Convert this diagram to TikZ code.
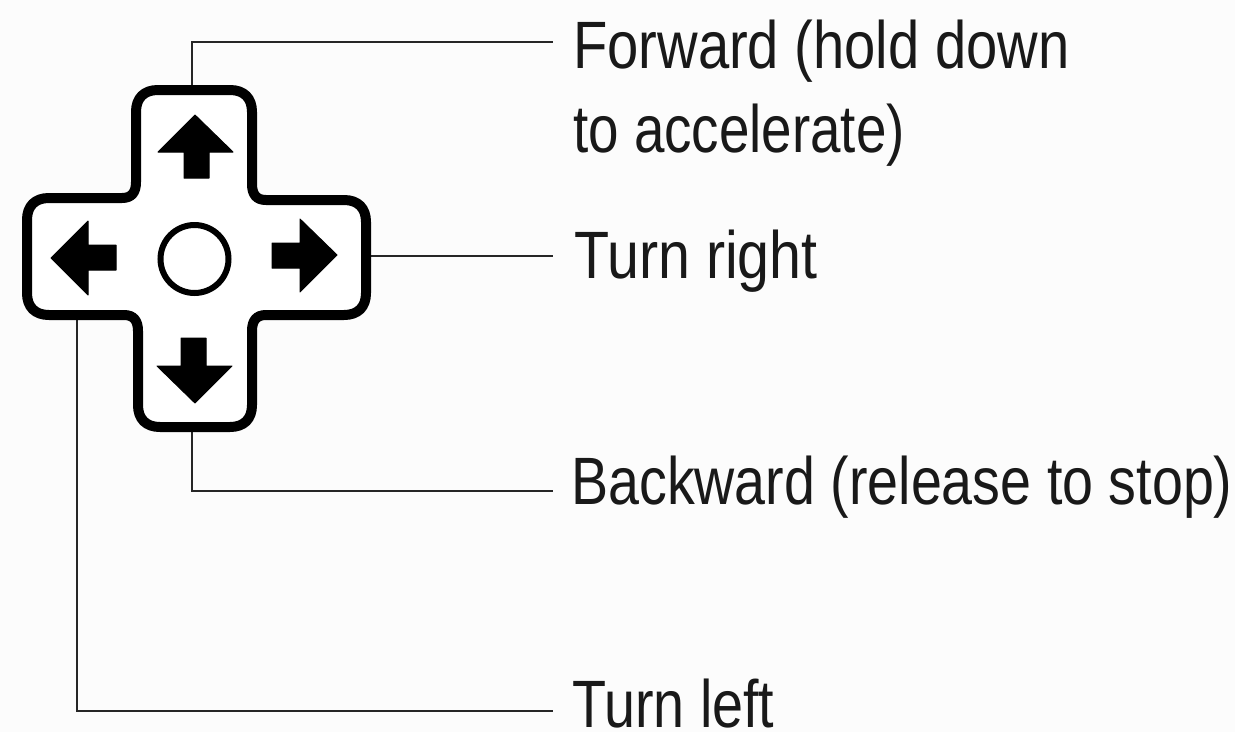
\documentclass[tikz,border=0pt]{standalone}
\usepackage{fontspec}
\setmainfont[FakeStretch=0.84]{Liberation Sans}
\tikzset{
  x=1pt,y=-1pt,
  lbl/.style={anchor=base west,inner sep=0pt,font=\fontsize{67}{67}\selectfont,text=black!90},
  leader/.style={draw=black!85,line width=2pt},
  padoutline/.style={draw=black,line width=10pt,line join=round,fill=white},
  glyph/.style={fill=black,draw=black,line width=1pt,line join=round}
}
\begin{document}
\begin{tikzpicture}
\useasboundingbox (0,0) rectangle (1235,732);
\fill[white!99!black] (0,0) rectangle (1235,732);
% leaders
\coordinate (fwdA) at (192,90);
\coordinate (fwdB) at (192,42);
\coordinate (fwdC) at (553,42);
\coordinate (rtA) at (368,256);
\coordinate (rtB) at (553,256);
\coordinate (bkA) at (192,428);
\coordinate (bkB) at (192,490.5);
\coordinate (bkC) at (553,490.5);
\coordinate (ltA) at (77,318);
\coordinate (ltB) at (77,711);
\coordinate (ltC) at (553,711);
\draw[leader] (fwdA) -- (fwdB) -- (fwdC);
\draw[leader] (rtA) -- (rtB);
\draw[leader] (bkA) -- (bkB) -- (bkC);
\draw[leader] (ltA) -- (ltB) -- (ltC);
% pad
\draw[padoutline] (158,90)
  -- (230,90) .. controls (244,90) and (252,98) .. (252,112)
  -- (252,184) .. controls (252,194) and (256,200) .. (266,200)
  -- (344,200) .. controls (358,200) and (366,208) .. (366,222)
  -- (366,293) .. controls (366,307) and (358,315) .. (344,315)
  -- (266,315) .. controls (256,315) and (252,321) .. (252,331)
  -- (252,405) .. controls (252,419) and (244,427) .. (230,427)
  -- (160,427) .. controls (146,427) and (138,419) .. (138,405)
  -- (138,331) .. controls (138,321) and (134,315) .. (124,315)
  -- (49,315) .. controls (35,315) and (27,307) .. (27,293)
  -- (27,220) .. controls (27,206) and (35,198) .. (49,198)
  -- (122,198) .. controls (132,198) and (136,192) .. (136,182)
  -- (136,112) .. controls (136,98) and (144,90) .. (158,90) -- cycle;
% arrows
\path[glyph] (195,115) -- (233,152) -- (209,152) -- (209,178) -- (184,178) -- (184,152) -- (158,152) -- cycle;
\path[glyph] (195,403) -- (157,366) -- (181,366) -- (181,338) -- (206,338) -- (206,366) -- (232,366) -- cycle;
\path[glyph] (51,258) -- (88,221) -- (88,245) -- (116,245) -- (116,270) -- (88,270) -- (88,295) -- cycle;
\path[glyph] (337,255) -- (300,219) -- (300,243) -- (272,243) -- (272,268) -- (300,268) -- (300,292) -- cycle;
\node[circle,draw=black,line width=6pt,minimum size=68pt,inner sep=0pt] (centre) at (194.5,259) {};
% labels
\node[lbl] (l1) at (573,68) {\scalebox{0.998}[1]{Forward (hold down}};
\node[lbl] (l2) at (573,152) {\scalebox{0.973}[1]{to accelerate)}};
\node[lbl] (l3) at (574,278) {\scalebox{1.02}[1]{Turn right}};
\node[lbl] (l4) at (571,504) {\scalebox{0.988}[1]{Backward (release to stop)}};
\node[lbl] (l5) at (572,727) {\scalebox{0.99}[1]{Turn left}};
\end{tikzpicture}
\end{document}
